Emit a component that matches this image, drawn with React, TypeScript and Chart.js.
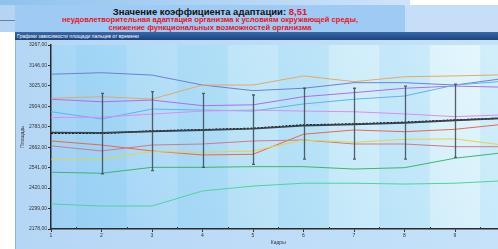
import React, { useEffect, useRef } from "react";
import { Chart, registerables } from "chart.js";

Chart.register(...registerables);

const frames = [1, 2, 3, 4, 5, 6, 7, 8, 9, 10];
const yTicks = [2178, 2299, 2420, 2541, 2662, 2783, 2904, 3025, 3146, 3267];

const blueSeries = [3094, 3103, 3089, 3030, 2997, 3011, 3044, 3044, 3030, 3070];
const orangeSeries = [2952, 2961, 2947, 3030, 3030, 3084, 3050, 3079, 3084, 3091];
const purpleSeries = [2946, 2931, 2941, 2908, 2913, 2961, 2985, 3011, 3024, 3017];
const skySeries = [2872, 2829, 2888, 2882, 2876, 2918, 2946, 2965, 3030, 3053];
const lilacSeries = [2837, 2840, 2858, 2876, 2882, 2876, 2872, 2859, 2843, 2854];
const meanSeries = [2744, 2744, 2758, 2766, 2774, 2794, 2800, 2810, 2823, 2835];
const trendSeries = [2749, 2747, 2756, 2763, 2771, 2790, 2797, 2806, 2821, 2834];
const redSeries = [2699, 2675, 2640, 2616, 2620, 2739, 2764, 2754, 2768, 2799];
const roseSeries = [2670, 2640, 2675, 2681, 2699, 2705, 2681, 2681, 2665, 2665];
const yellowSeries = [2592, 2592, 2636, 2632, 2640, 2705, 2691, 2709, 2711, 2673];
const greenSeries = [2514, 2508, 2543, 2543, 2547, 2547, 2533, 2541, 2597, 2631];
const mintSeries = [2326, 2314, 2314, 2403, 2432, 2449, 2449, 2444, 2449, 2464];

const errFrames = [2, 3, 4, 5, 6, 7, 8, 9];
const errHigh = [2981, 2991, 2981, 2971, 3011, 3011, 3024, 3036];
const errLow = [2504, 2523, 2543, 2561, 2591, 2591, 2591, 2602];

const FONT = "'Liberation Sans', Arial, sans-serif";

const bgPlugin = {
  id: "bgPlugin",
  beforeDraw(chart: any) {
    const { ctx, chartArea: a, scales } = chart;
    const x = scales.x;
    ctx.save();
    const g = ctx.createLinearGradient(a.left, a.bottom, a.right, a.top);
    g.addColorStop(0, "#9dd0f5");
    g.addColorStop(0.5, "#c0e6f8");
    g.addColorStop(1, "#e8f8fd");
    ctx.fillStyle = g;
    ctx.fillRect(a.left, a.top, a.right - a.left, a.bottom - a.top);
    ctx.fillStyle = "rgba(110,195,245,0.17)";
    for (let s = 1.5; s < 10; s += 2) {
      const x0 = x.getPixelForValue(s);
      const x1 = Math.min(x.getPixelForValue(s + 1), a.right);
      ctx.fillRect(x0, a.top, x1 - x0, a.bottom - a.top);
    }
    ctx.restore();
  },
};

const errPlugin = {
  id: "errPlugin",
  afterDatasetsDraw(chart: any) {
    const { ctx, scales } = chart;
    ctx.save();
    ctx.strokeStyle = "rgba(60,70,80,0.85)";
    ctx.lineWidth = 1.3;
    errFrames.forEach((f, i) => {
      const px = Math.round(scales.x.getPixelForValue(f)) + 0.5;
      const yt = scales.y.getPixelForValue(errHigh[i]);
      const yb = scales.y.getPixelForValue(errLow[i]);
      ctx.beginPath();
      ctx.moveTo(px, yt);
      ctx.lineTo(px, yb);
      ctx.moveTo(px - 1.5, yt);
      ctx.lineTo(px + 1.5, yt);
      ctx.moveTo(px - 1.5, yb);
      ctx.lineTo(px + 1.5, yb);
      ctx.stroke();
    });
    const a = chart.chartArea;
    ctx.strokeStyle = "#333";
    ctx.lineWidth = 1;
    for (let s = 1.5; s < 10; s += 1) {
      const px = Math.round(scales.x.getPixelForValue(s)) + 0.5;
      ctx.beginPath();
      ctx.moveTo(px, a.bottom - 2);
      ctx.lineTo(px, a.bottom);
      ctx.stroke();
    }
    ctx.restore();
  },
};

function ds(label: string, vals: number[], color: string, extra: any = {}) {
  return {
    label,
    data: frames.map((f, i) => ({ x: f, y: vals[i] })),
    borderColor: color,
    backgroundColor: color,
    borderWidth: 1,
    pointRadius: 0,
    tension: 0,
    fill: false,
    ...extra,
  };
}

export default function App() {
  const ref = useRef<HTMLCanvasElement>(null);
  useEffect(() => {
    if (!ref.current) return;
    const chart = new Chart(ref.current, {
      type: "line",
      data: {
        datasets: [
          ds("1", mintSeries, "#4fd39e"),
          ds("2", greenSeries, "#3fb46e"),
          ds("3", yellowSeries, "#e6d24a"),
          ds("4", roseSeries, "#d07a86"),
          ds("5", redSeries, "#e8684e"),
          ds("6", lilacSeries, "#dc8cf0"),
          ds("7", skySeries, "#5fb2f2"),
          ds("8", purpleSeries, "#b06af2"),
          ds("9", orangeSeries, "#e2aa66"),
          ds("10", blueSeries, "#6f7fd6"),
          ds("trend", trendSeries, "#3a4048", { borderWidth: 1.6 }),
          ds("mean", meanSeries, "#000000", { borderWidth: 1.4, borderDash: [2, 1.5] }),
        ],
      },
      options: {
        animation: false,
        responsive: false,
        maintainAspectRatio: false,
        layout: { padding: { top: 5, right: 9.5, left: 0, bottom: 0 } },
        plugins: { legend: { display: false }, tooltip: { enabled: false }, title: { display: false } },
        scales: {
          x: {
            type: "linear",
            min: 1,
            max: 10,
            afterFit: (s: any) => { s.height = 17; },
            ticks: {
              stepSize: 1,
              autoSkip: false,
              maxRotation: 0,
              padding: 1,
              color: "#333",
              font: { size: 5, family: FONT },
              callback: (v: any) => String(v),
            },
            grid: { display: true, drawOnChartArea: false, drawTicks: true, tickLength: 3, color: "#333" },
            border: { display: true, color: "#2a2a2a", width: 1.5 },
            title: { display: true, text: "Кадры", color: "#333", font: { size: 5, family: FONT }, padding: { top: 0, bottom: 0 } },
          },
          y: {
            type: "linear",
            min: 2178,
            max: 3267,
            afterFit: (s: any) => { s.width = 36; },
            afterBuildTicks: (s: any) => { s.ticks = yTicks.map((v) => ({ value: v })); },
            ticks: {
              padding: 1,
              color: "#333",
              font: { size: 5, family: FONT },
              callback: (v: any) => Number(v).toFixed(2).replace(".", ","),
            },
            grid: { display: true, drawOnChartArea: false, drawTicks: true, tickLength: 3, color: "#333" },
            border: { display: true, color: "#2a2a2a", width: 1.5 },
            title: { display: true, text: "Площадь", color: "#333", font: { size: 5, family: FONT }, padding: { top: 5, bottom: 0 } },
          },
        },
      },
      plugins: [bgPlugin, errPlugin],
    } as any);
    return () => chart.destroy();
  }, []);

  return (
    <div style={{ position: "fixed", left: 0, top: 0, width: 498, height: 249, overflow: "hidden", background: "#ffffff", fontFamily: FONT }}>
      <div style={{ position: "absolute", left: 0, top: 0, width: 410, height: 5, background: "linear-gradient(to right, #8fc2ee, #cfe4fa)" }} />
      <div style={{ position: "absolute", left: 0, top: 5, width: 15, height: 27, background: "#b6d4f2" }} />
      <div style={{ position: "absolute", left: 0, top: 20, width: 15, height: 1, background: "#5a86b6" }} />
      <div style={{ position: "absolute", left: 405, top: 5, width: 93, height: 27, background: "#c6def8" }} />
      <div style={{ position: "absolute", left: 15, top: 5, width: 390, height: 27, background: "#9fcaf4" }}>
        <div style={{ position: "absolute", left: 0, width: 390, top: 1, textAlign: "center", fontSize: 9.5, fontWeight: "bold", color: "#111", whiteSpace: "nowrap", lineHeight: "11px" }}>
          Значение коэффициента адаптации: <span style={{ color: "#e8141e" }}>8,51</span>
        </div>
        <div style={{ position: "absolute", left: 0, width: 390, top: 11, textAlign: "center", fontSize: 7.6, fontWeight: "bold", color: "#e8141e", whiteSpace: "nowrap", lineHeight: "8px" }}>
          неудовлетворительная адаптация организма к условиям окружающей среды,
        </div>
        <div style={{ position: "absolute", left: 0, width: 390, top: 19, textAlign: "center", fontSize: 7.6, fontWeight: "bold", color: "#e8141e", whiteSpace: "nowrap", lineHeight: "8px" }}>
          снижение функциональных возможностей организма
        </div>
      </div>
      <div style={{ position: "absolute", left: 15, top: 32, width: 483, height: 8, background: "linear-gradient(to bottom, #3a68a8, #1c447f)" }}>
        <div style={{ position: "absolute", left: 2, top: 0, fontSize: 5, lineHeight: "8px", color: "#ffffff", whiteSpace: "nowrap" }}>
          Графики зависимости площади пальцев от времени
        </div>
      </div>
      <div style={{ position: "absolute", left: 15, top: 40, width: 483, height: 209, background: "linear-gradient(to right, #b6d6f6, #c6e2fa)" }} />
      <div style={{ position: "absolute", left: 15, top: 40, width: 1, height: 209, background: "#8cb4e0" }} />
      <canvas ref={ref} width={500} height={206} style={{ position: "absolute", left: 15, top: 40, width: 500, height: 206 }} />
    </div>
  );
}
